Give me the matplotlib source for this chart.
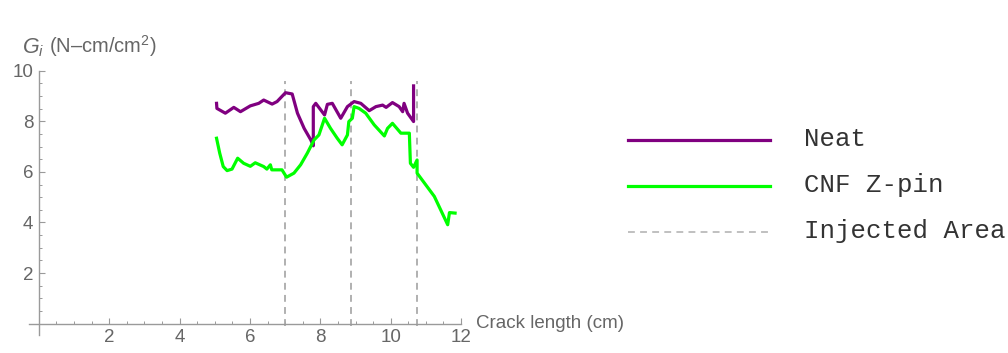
import matplotlib.pyplot as plt
from matplotlib.lines import Line2D

# data
neat_x = [5.05, 5.06, 5.30, 5.54, 5.73, 6.01, 6.25, 6.39, 6.63, 6.77, 7.01, 7.20,
          7.35, 7.54, 7.73, 7.80, 7.80, 7.87, 8.12, 8.20, 8.34, 8.58, 8.77, 8.96,
          9.15, 9.39, 9.58, 9.77, 9.87, 10.05, 10.24, 10.34, 10.38, 10.48, 10.65, 10.65]
neat_y = [8.71, 8.51, 8.32, 8.55, 8.38, 8.61, 8.71, 8.84, 8.68, 8.78, 9.13, 9.08,
          8.32, 7.72, 7.26, 7.03, 8.58, 8.71, 8.25, 8.67, 8.71, 8.12, 8.58, 8.78,
          8.71, 8.42, 8.58, 8.64, 8.55, 8.74, 8.58, 8.38, 8.71, 8.32, 7.99, 9.40]

cnf_x = [5.05, 5.14, 5.24, 5.35, 5.49, 5.65, 5.82, 6.01, 6.15, 6.39, 6.48, 6.58,
         6.62, 6.91, 7.04, 7.25, 7.44, 7.63, 7.82, 7.96, 8.12, 8.29, 8.48, 8.62,
         8.77, 8.81, 8.91, 8.96, 9.10, 9.29, 9.53, 9.82, 9.91, 10.05, 10.29, 10.53,
         10.56, 10.65, 10.75, 10.75, 11.24, 11.62, 11.67, 11.83]
cnf_y = [7.33, 6.74, 6.21, 6.05, 6.11, 6.54, 6.34, 6.22, 6.36, 6.21, 6.11, 6.28,
         6.08, 6.08, 5.79, 5.95, 6.28, 6.74, 7.26, 7.46, 8.12, 7.72, 7.33, 7.07,
         7.46, 7.99, 8.12, 8.58, 8.51, 8.32, 7.86, 7.42, 7.72, 7.92, 7.53, 7.53,
         6.34, 6.18, 6.47, 5.95, 5.03, 3.91, 4.39, 4.37]

injected_x = [7.0, 8.87, 10.75]

labels = ["Neat", "CNF Z-pin", "Injected Area"]

PURPLE = "#800080"
GREEN = "#00ff00"
DASH = "#aaaaaa"
AXIS = "#9a9a9a"
TEXT = "#666666"

plt.rcParams["mathtext.fontset"] = "custom"
plt.rcParams["mathtext.rm"] = "Liberation Sans"
plt.rcParams["mathtext.it"] = "Liberation Sans:italic"

fig = plt.figure(figsize=(10.08, 3.53), dpi=100)
ax = fig.add_axes([0.0288, 0.051, 0.4286, 0.7487])

ax.plot(neat_x, neat_y, color=PURPLE, lw=2.3, solid_joinstyle="round", zorder=3)
ax.plot(cnf_x, cnf_y, color=GREEN, lw=2.3, solid_joinstyle="round", zorder=3)
for xv in injected_x:
    ax.plot([xv, xv], [-0.1, 9.6], color=DASH, lw=1.3, dashes=(3.8, 2.9), zorder=2)

ax.set_xlim(-0.28, 12)
ax.set_ylim(-0.45, 10)

# axes through the origin
for s in ["top", "right"]:
    ax.spines[s].set_visible(False)
ax.spines["left"].set_position(("data", 0))
ax.spines["bottom"].set_position(("data", 0))
for s in ["left", "bottom"]:
    ax.spines[s].set_color(AXIS)
    ax.spines[s].set_linewidth(1.0)

ax.set_xticks([2, 4, 6, 8, 10, 12])
ax.set_yticks([2, 4, 6, 8, 10])
ax.set_xticks([i * 0.5 for i in range(1, 24) if i % 4 != 0], minor=True)
ax.set_yticks([i * 0.5 for i in range(1, 20) if i % 4 != 0], minor=True)
ax.tick_params(which="major", direction="in", length=4, width=0.8, color=AXIS,
               labelcolor=TEXT, labelsize=13.5, pad=4)
ax.tick_params(which="minor", direction="in", length=2, width=0.7, color=AXIS)
for lab in ax.get_xticklabels() + ax.get_yticklabels():
    lab.set_family("Liberation Sans")

fig.text(22 / 1008, 1 - 48 / 353, r"$G_i$", color=TEXT, fontsize=15.5,
         va="center", ha="left")
fig.text(49 / 1008, 1 - 46 / 353, r"(N–cm/cm$^2$)", color=TEXT, fontsize=14.5,
         family="Liberation Sans", va="center", ha="left")
fig.text(476 / 1008, 1 - 324 / 353, "Crack length (cm)", color=TEXT, fontsize=13.5,
         family="Liberation Sans", va="center", ha="left")

# legend drawn by hand to the right
leg_y = [140, 186, 232]
leg_styles = [dict(color=PURPLE, lw=2.3), dict(color=GREEN, lw=2.3),
              dict(color="#bbbbbb", lw=1.3, dashes=(3.8, 2.9))]
for yy, lab, st in zip(leg_y, labels, leg_styles):
    fy = 1 - yy / 353
    fig.add_artist(Line2D([628 / 1008, 770 / 1008], [fy, fy], **st))
    fig.text(804 / 1008, fy + 0.004, lab, color="#333333", fontsize=18.5,
             family="Liberation Mono", va="center", ha="left")

fig.savefig("out.png", dpi=100)
